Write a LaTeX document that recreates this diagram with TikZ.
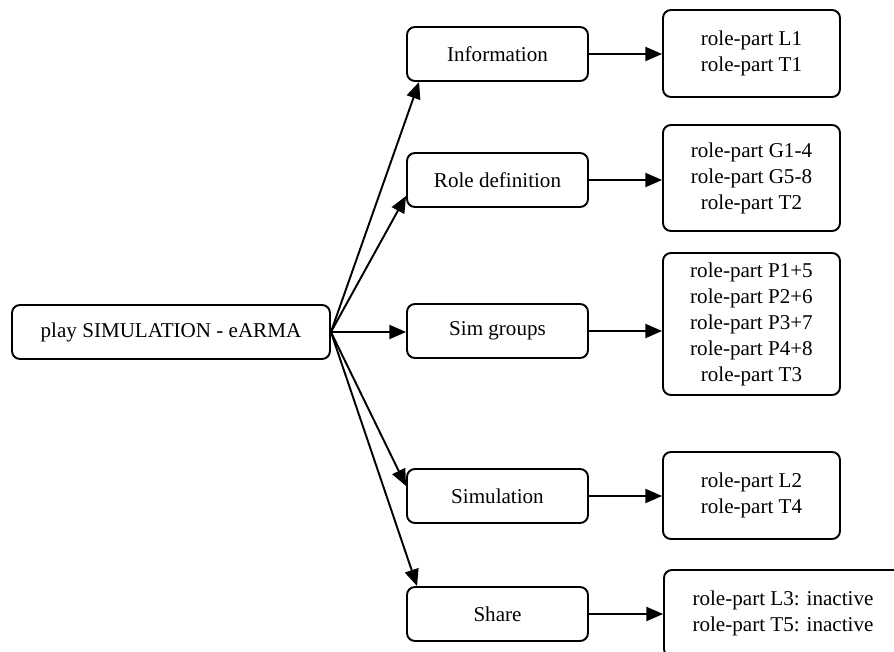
\documentclass[tikz,border=0pt]{standalone}
\usepackage{fontspec}
\setmainfont{Liberation Serif}
\usetikzlibrary{arrows.meta}

\begin{document}
\begin{tikzpicture}[x=0.02cm, y=-0.02cm, line join=round,
    stage/.style={draw, line width=1.1pt, rounded corners=4.5pt, minimum width=3.62cm,
        minimum height=1.08cm, inner sep=0pt, font=\fontsize{12pt}{14.8pt}\selectfont},
    rolebox/.style={stage, minimum width=3.54cm, align=center},
    link/.style={line width=1.1pt, -{Triangle[length=9.5pt,width=8pt]}}]
    \path[use as bounding box] (0,0) rectangle (894,652);
    \clip (0,0) rectangle (894,652);

    % root and the five stages
    \node[stage, minimum width=6.36cm] (play) at (171,332) {play SIMULATION - eARMA};
    \node[stage] (info)    at (497.5,54)  {Information};
    \node[stage] (roledef) at (497.5,180) {Role definition};
    \node[stage] (simgr)   at (497.5,331) {Sim groups};
    \node[stage] (simul)   at (497.5,496) {Simulation};
    \node[stage] (share)   at (497.5,614) {Share};

    % role-parts of each stage
    \node[rolebox, minimum height=1.74cm] (rp1) at (751.5,53.5) {role-part L1\\role-part T1};
    \node[rolebox, minimum height=2.12cm] (rp2) at (751.5,178) {role-part G1-4\\role-part G5-8\\role-part T2};
    \node[rolebox, minimum height=2.84cm] (rp3) at (751.5,324) {role-part P1+5\\role-part P2+6\\role-part P3+7\\role-part P4+8\\role-part T3};
    \node[rolebox, minimum height=1.74cm] (rp4) at (751.5,495.5) {role-part L2\\role-part T4};
    \node[rolebox, minimum width=4.76cm, minimum height=1.74cm] (rp5) at (783,613.5) {role-part L3: inactive\\role-part T5: inactive};

    \draw[link] (play.east) -- ([xshift=0.26cm]info.south west);
    \draw[link] (play.east) -- ([yshift=0.24cm]roledef.south west);
    \draw[link] (play.east) -- (play.east -| simgr.west);
    \draw[link] (play.east) -- ([yshift=-0.36cm]simul.north west);
    \draw[link] (play.east) -- ([xshift=0.22cm]share.north west);

    \draw[link] (info.east) -- (info.east -| rp1.west);
    \draw[link] (roledef.east) -- (roledef.east -| rp2.west);
    \draw[link] (simgr.east) -- (simgr.east -| rp3.west);
    \draw[link] (simul.east) -- (simul.east -| rp4.west);
    \draw[link] (share.east) -- (share.east -| rp5.west);
\end{tikzpicture}
\end{document}
